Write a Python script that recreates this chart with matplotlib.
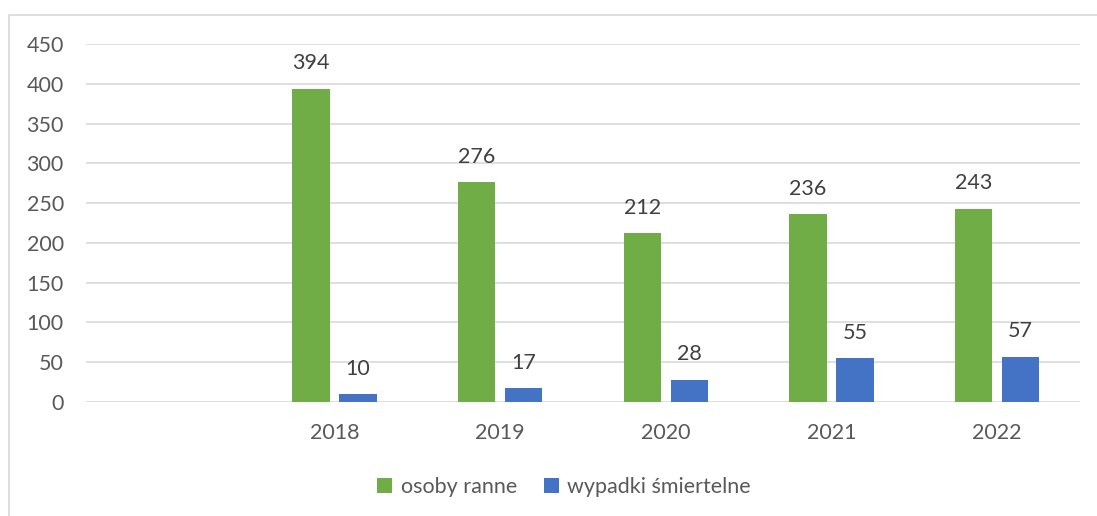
import matplotlib.pyplot as plt
from matplotlib.patches import Rectangle
import numpy as np

plt.rcParams['font.family'] = ['Lato', 'DejaVu Sans']

categories = ['', '2018', '2019', '2020', '2021', '2022']
injured = [None, 394, 276, 212, 236, 243]
fatal = [None, 10, 17, 28, 55, 57]
series_names = ['osoby ranne', 'wypadki śmiertelne']

green = '#70ad47'
blue = '#4472c4'
grid_col = '#d9d9d9'
text_col = '#595959'
label_col = '#404040'
fs = 15.5

W, H = 1097, 516
fig = plt.figure(figsize=(W / 100, H / 100), dpi=100)

# outer chart frame
fig.patches.append(Rectangle((9 / W, -0.05), 1.2, 1 - 15 / H + 0.05,
                             transform=fig.transFigure, fill=False,
                             edgecolor=grid_col, linewidth=1.2))

ax = fig.add_axes([86 / W, 1 - 402 / H, (1080 - 86) / W, (402 - 44) / H])

x = np.arange(len(categories))
bw = 0.224
off = 0.142
idx = [i for i, v in enumerate(injured) if v is not None]
xs = np.array(idx)
b1 = ax.bar(xs - off, [injured[i] for i in idx], bw, color=green, label=series_names[0], zorder=3)
b2 = ax.bar(xs + off, [fatal[i] for i in idx], bw, color=blue, label=series_names[1], zorder=3)

for bars in (b1, b2):
    for r in bars:
        ax.annotate(f'{int(r.get_height())}', (r.get_x() + r.get_width() / 2, r.get_height()),
                    xytext=(0, 11), textcoords='offset points', ha='center', va='bottom',
                    fontsize=fs, color=label_col)

ax.set_xlim(-0.5, len(categories) - 0.5)
ax.set_ylim(0, 450)
ax.set_yticks(range(0, 451, 50))
ax.set_xticks(x)
ax.set_xticklabels(categories)
ax.yaxis.grid(True, color=grid_col, linewidth=1.2, zorder=0)
ax.tick_params(axis='both', length=0, labelsize=fs, labelcolor=text_col)
ax.tick_params(axis='y', pad=16)
ax.tick_params(axis='x', pad=15)
for s in ax.spines.values():
    s.set_visible(False)

ax.legend(loc='center', bbox_to_anchor=(0.5 - 19 / 994, -(487 - 402) / 358),
          ncol=2, frameon=False, fontsize=fs, labelcolor=text_col,
          handlelength=0.7, handleheight=0.7, handletextpad=0.4, columnspacing=1.25)

fig.savefig('out.png', dpi=100)
